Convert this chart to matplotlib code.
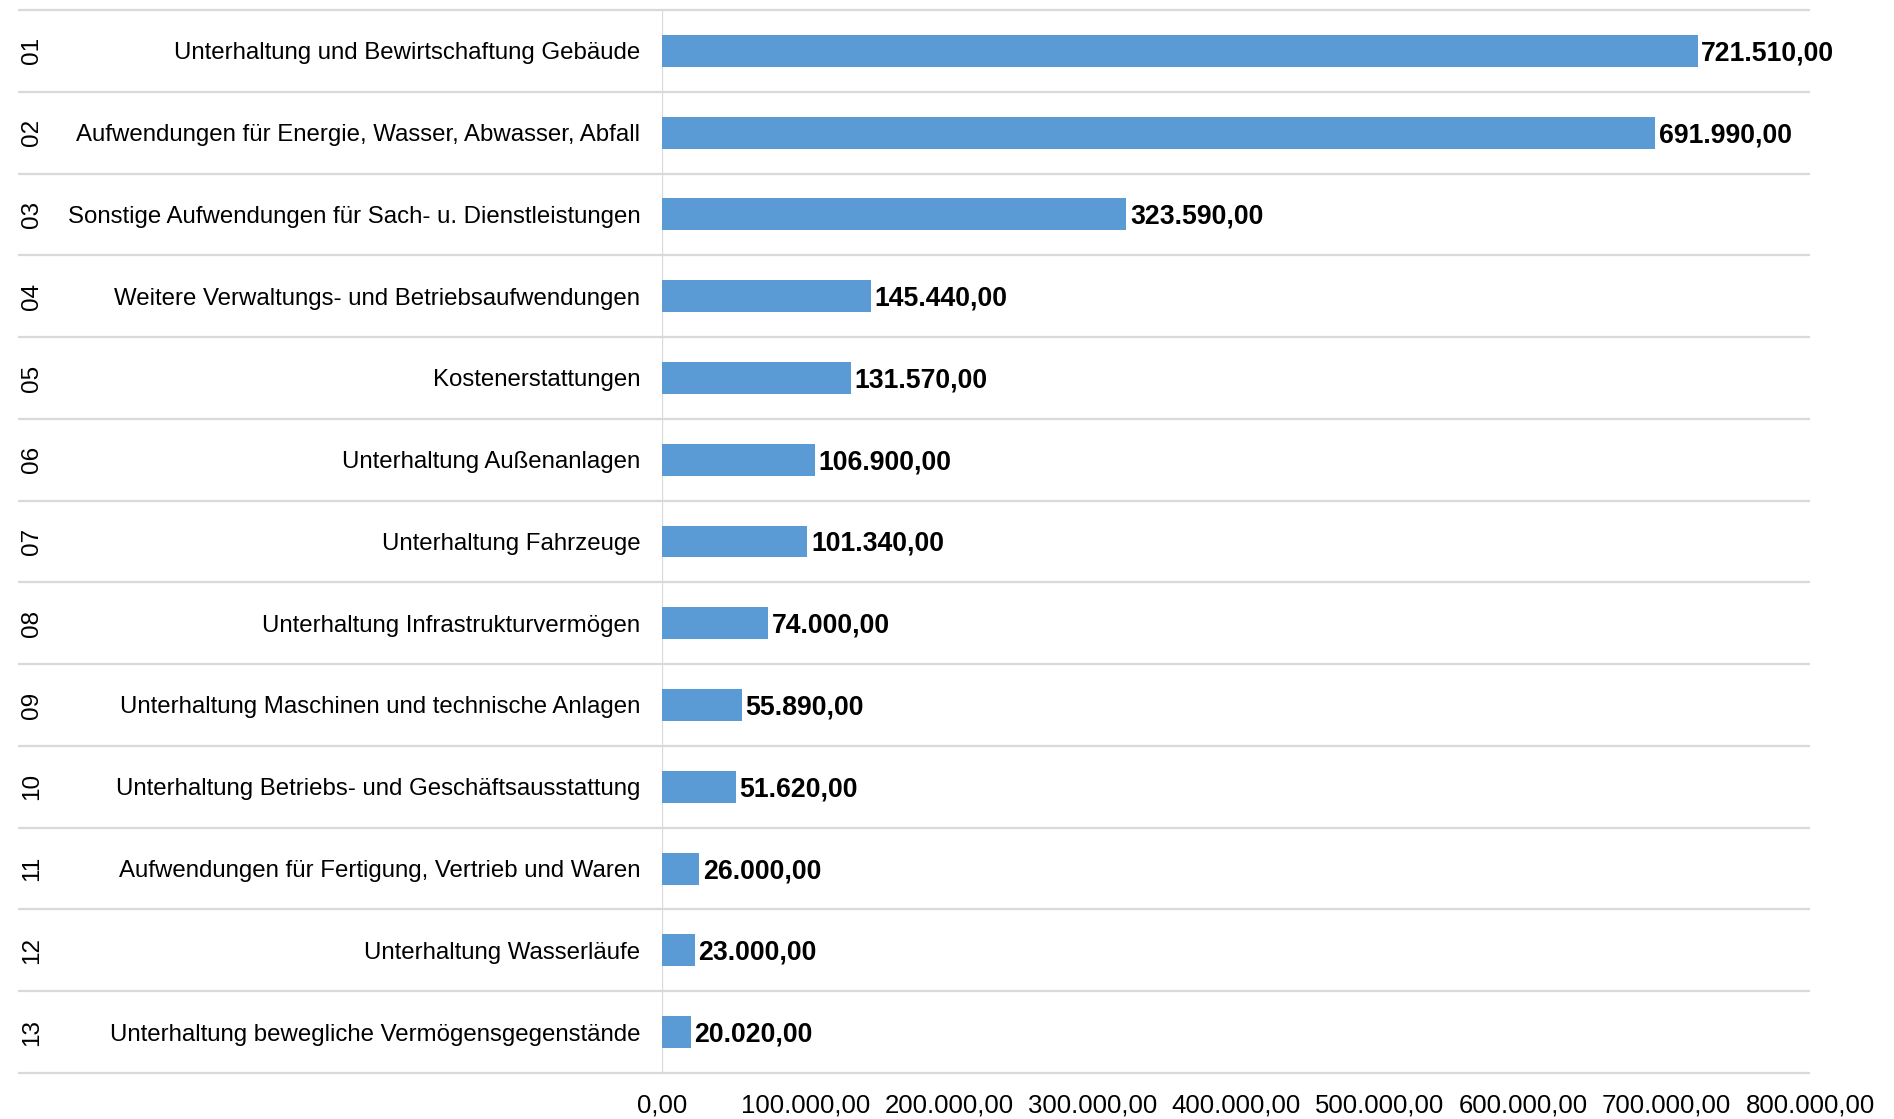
import matplotlib.pyplot as plt
from matplotlib.ticker import FuncFormatter

plt.rcParams['font.family'] = ['Liberation Sans', 'DejaVu Sans']

nummern = ['01', '02', '03', '04', '05', '06', '07', '08', '09', '10', '11', '12', '13']
kategorien = [
    'Unterhaltung und Bewirtschaftung Gebäude',
    'Aufwendungen für Energie, Wasser, Abwasser, Abfall',
    'Sonstige Aufwendungen für Sach- u. Dienstleistungen',
    'Weitere Verwaltungs- und Betriebsaufwendungen',
    'Kostenerstattungen',
    'Unterhaltung Außenanlagen',
    'Unterhaltung Fahrzeuge',
    'Unterhaltung Infrastrukturvermögen',
    'Unterhaltung Maschinen und technische Anlagen',
    'Unterhaltung Betriebs- und Geschäftsausstattung',
    'Aufwendungen für Fertigung, Vertrieb und Waren',
    'Unterhaltung Wasserläufe',
    'Unterhaltung bewegliche Vermögensgegenstände',
]
betraege = [721510, 691990, 323590, 145440, 131570, 106900, 101340,
            74000, 55890, 51620, 26000, 23000, 20020]


def de_format(v, pos=None):
    s = f'{v:,.2f}'
    return s.replace(',', '#').replace('.', ',').replace('#', '.')


fig = plt.figure(figsize=(18.94, 11.19), dpi=100)
ax = fig.add_axes([0.3495, 0.0411, 0.6063, 0.9500])

y = list(range(len(kategorien)))
ax.barh(y, betraege, height=0.39, color='#5B9BD5', zorder=2)
ax.set_ylim(len(kategorien) - 0.5, -0.5)
ax.set_xlim(0, 800000)
ax.set_xticks(range(0, 800001, 100000))
ax.xaxis.set_major_formatter(FuncFormatter(de_format))
ax.tick_params(axis='x', length=0, pad=15, labelsize=18.5)
ax.set_yticks([])
for s in ax.spines.values():
    s.set_visible(False)

# Trennlinien der Kategorien (ragen in den Beschriftungsbereich)
grau = '#d9d9d9'
grenzen = [i - 0.5 for i in range(len(kategorien) + 1)]
ax.hlines(grenzen, -0.561, 1.0, transform=ax.get_yaxis_transform(),
          color=grau, lw=1.6, clip_on=False, zorder=1)
ax.axvline(0, color=grau, lw=1.6, zorder=1)

tr = ax.get_yaxis_transform()
for i, (nr, kat, wert) in enumerate(zip(nummern, kategorien, betraege)):
    ax.text(-0.019, i + 0.03, kat, transform=tr, ha='right', va='center', fontsize=17.3)
    ax.text(-0.5485, i, nr, transform=tr, ha='center', va='center',
            rotation=90, fontsize=17.5)
    ax.annotate(de_format(wert), (wert, i + 0.03), xytext=(2.5, 0), textcoords='offset points',
                ha='left', va='center', fontsize=19.2, fontweight='bold')

fig.savefig('out.png', dpi=100)
